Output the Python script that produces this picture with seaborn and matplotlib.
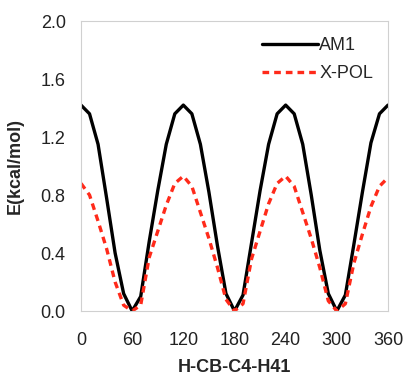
import matplotlib
matplotlib.use("Agg")
import matplotlib.pyplot as plt
import seaborn as sns
import pandas as pd

angles = list(range(0, 361, 10))
am1 = [1.42, 1.36, 1.15, 0.78, 0.40, 0.12, 0.00, 0.10, 0.48, 0.83, 1.15, 1.36, 1.42,
       1.36, 1.15, 0.82, 0.45, 0.12, 0.00, 0.11, 0.47, 0.83, 1.15, 1.36, 1.42,
       1.36, 1.15, 0.80, 0.42, 0.12, 0.00, 0.11, 0.46, 0.82, 1.16, 1.36, 1.42]
xpol = [0.88, 0.80, 0.62, 0.43, 0.20, 0.04, 0.00, 0.04, 0.37, 0.55, 0.73, 0.88, 0.93,
        0.86, 0.68, 0.50, 0.30, 0.08, 0.00, 0.05, 0.36, 0.55, 0.74, 0.88, 0.93,
        0.86, 0.68, 0.50, 0.30, 0.07, 0.00, 0.05, 0.33, 0.53, 0.72, 0.86, 0.92]
xticks = [0, 60, 120, 180, 240, 300, 360]
yticks = [0.0, 0.4, 0.8, 1.2, 1.6, 2.0]

sns.set_style("white")
plt.rcParams['font.family'] = ['Liberation Sans', 'DejaVu Sans']

df = pd.DataFrame({"angle": angles * 2,
                   "E": am1 + xpol,
                   "method": ["AM1"] * len(angles) + ["X-POL"] * len(angles)})

fig = plt.figure(figsize=(4.06, 3.79), dpi=100)
ax = fig.add_axes([81/406, 1 - 311/379, (388-81)/406, (311-21)/379])

sns.lineplot(data=df[df.method == "AM1"], x="angle", y="E", ax=ax,
             color="black", lw=2.4, label="AM1")
sns.lineplot(data=df[df.method == "X-POL"], x="angle", y="E", ax=ax,
             color="#ff2a1a", lw=2.4, linestyle=(0, (2.0, 1.5)), label="X-POL")

ax.set_xlim(0, 360)
ax.set_ylim(0, 2.0)
ax.set_xticks(xticks)
ax.set_yticks(yticks)
ax.set_yticklabels([f"{v:.1f}" for v in yticks])
ax.tick_params(axis='both', direction='out', length=3, width=0.8,
               labelsize=13, colors="#bbbbbb", labelcolor="#222222")
ax.tick_params(axis='x', pad=12)
ax.tick_params(axis='y', pad=8)
for s in ax.spines.values():
    s.set_color("#d0d0d0")
    s.set_linewidth(0.8)
ax.set_xlabel("H-CB-C4-H41", fontsize=13, fontweight='bold', labelpad=7)
ax.set_ylabel("E(kcal/mol)", fontsize=13, fontweight='bold', labelpad=12)
leg = ax.legend(loc="upper right", frameon=False, fontsize=13, handlelength=3.1,
                handletextpad=0.1, labelspacing=0.6, borderaxespad=0.5,
                bbox_to_anchor=(1.005, 1.0))
fig.savefig("out.png", dpi=100)
